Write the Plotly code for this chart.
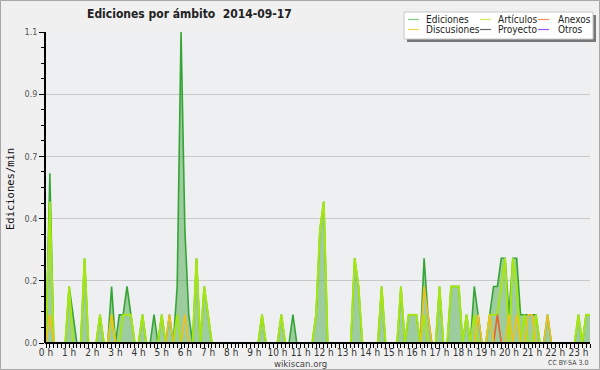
import plotly.graph_objects as go

# 10-minute bins from 00:00 to 23:40
minutes = list(range(0, 1420, 10))
hour_labels = [f"{h} h" for h in range(24)]

ediciones = ([0, 0.6, 0, 0, 0, 0, 0.2, 0.1, 0, 0, 0.3, 0] +
             [0, 0, 0.1, 0, 0, 0.2, 0, 0.1, 0.1, 0.2, 0.1, 0] +
             [0, 0.1, 0, 0, 0.1, 0, 0.1, 0, 0.1, 0, 0.2, 1.1] +
             [0.4, 0.1, 0, 0.3, 0, 0.2, 0.1, 0, 0, 0, 0, 0] +
             [0, 0, 0, 0, 0, 0, 0, 0, 0.1, 0, 0, 0] +
             [0, 0.1, 0, 0, 0.1, 0, 0, 0, 0, 0, 0.1, 0.4] +
             [0.5, 0, 0, 0, 0, 0, 0, 0, 0.3, 0.2, 0, 0] +
             [0, 0, 0, 0.2, 0, 0, 0, 0, 0.2, 0, 0.1, 0.1] +
             [0.1, 0, 0.3, 0.1, 0, 0, 0.2, 0, 0, 0.2, 0.2, 0.2] +
             [0, 0.1, 0, 0.2, 0.1, 0, 0, 0.1, 0.2, 0.2, 0.3, 0.3] +
             [0.1, 0.3, 0.3, 0.1, 0.1, 0.1, 0.1, 0.1, 0, 0, 0.1, 0] +
             [0, 0, 0, 0, 0, 0, 0.1, 0, 0.1, 0.1])

articulos = ([0, 0.5, 0, 0, 0, 0, 0.2, 0, 0, 0, 0.3, 0] +
             [0, 0, 0.1, 0, 0, 0.1, 0, 0, 0.1, 0.1, 0.1, 0] +
             [0, 0.1, 0, 0, 0, 0, 0.1, 0, 0, 0, 0.1, 0] +
             [0, 0, 0, 0.3, 0, 0.2, 0.1, 0, 0, 0, 0, 0] +
             [0, 0, 0, 0, 0, 0, 0, 0, 0.1, 0, 0, 0] +
             [0, 0.1, 0, 0, 0, 0, 0, 0, 0, 0, 0.1, 0.4] +
             [0.5, 0, 0, 0, 0, 0, 0, 0, 0.3, 0.2, 0, 0] +
             [0, 0, 0, 0.2, 0, 0, 0, 0, 0.2, 0, 0.1, 0.1] +
             [0.1, 0, 0.1, 0, 0, 0, 0.2, 0, 0, 0.2, 0.2, 0.2] +
             [0, 0.1, 0, 0.1, 0, 0, 0, 0.1, 0.1, 0.1, 0.2, 0.3] +
             [0, 0.3, 0.2, 0, 0.1, 0, 0, 0.1, 0, 0, 0, 0] +
             [0, 0, 0, 0, 0, 0, 0.1, 0, 0.1, 0.1])

anexos = ([0, 0, 0, 0, 0, 0, 0, 0, 0, 0, 0, 0] +
          [0, 0, 0, 0, 0, 0, 0, 0, 0, 0, 0, 0] +
          [0, 0, 0, 0, 0, 0, 0, 0, 0, 0, 0, 0] +
          [0, 0, 0, 0, 0, 0, 0, 0, 0, 0, 0, 0] +
          [0, 0, 0, 0, 0, 0, 0, 0, 0, 0, 0, 0] +
          [0, 0, 0, 0, 0, 0, 0, 0, 0, 0, 0, 0] +
          [0, 0, 0, 0, 0, 0, 0, 0, 0, 0, 0, 0] +
          [0, 0, 0, 0, 0, 0, 0, 0, 0, 0, 0, 0] +
          [0, 0, 0, 0, 0, 0, 0, 0, 0, 0, 0, 0] +
          [0, 0, 0, 0, 0, 0, 0, 0, 0, 0.1, 0, 0] +
          [0, 0, 0, 0, 0, 0, 0, 0, 0, 0, 0, 0] +
          [0, 0, 0, 0, 0, 0, 0, 0, 0, 0])

discusiones = ([0, 0.1, 0, 0, 0, 0, 0, 0, 0, 0, 0, 0] +
               [0, 0, 0, 0, 0, 0.1, 0, 0, 0, 0, 0, 0] +
               [0, 0, 0, 0, 0, 0, 0, 0, 0.1, 0, 0, 0] +
               [0.1, 0, 0, 0, 0, 0, 0, 0, 0, 0, 0, 0] +
               [0, 0, 0, 0, 0, 0, 0, 0, 0, 0, 0, 0] +
               [0, 0, 0, 0, 0, 0, 0, 0, 0, 0, 0, 0] +
               [0, 0, 0, 0, 0, 0, 0, 0, 0, 0, 0, 0] +
               [0, 0, 0, 0, 0, 0, 0, 0, 0, 0, 0, 0] +
               [0, 0, 0.2, 0.1, 0, 0, 0, 0, 0, 0, 0, 0] +
               [0, 0, 0, 0, 0.1, 0, 0, 0.1, 0, 0, 0, 0] +
               [0.1, 0, 0.1, 0, 0, 0.1, 0.1, 0, 0, 0, 0.1, 0] +
               [0, 0, 0, 0, 0, 0, 0, 0, 0, 0])

proyecto = ([0, 0, 0, 0, 0, 0, 0, 0, 0, 0, 0, 0] * 11 +
            [0, 0, 0, 0, 0, 0, 0, 0, 0, 0])
otros = ([0, 0, 0, 0, 0, 0, 0, 0, 0, 0, 0, 0] * 11 +
         [0, 0, 0, 0, 0, 0, 0, 0, 0, 0])

y_tickvals = [0, 0.22, 0.44, 0.66, 0.88, 1.1]
y_ticktext = ["0.0", "0.2", "0.4", "0.7", "0.9", "1.1"]

series_names = ["Ediciones", "Artículos", "Anexos", "Discusiones", "Proyecto", "Otros"]
series_colors = ["#35a535", "#a6e612", "#f0602a", "#f2c01a", "#555555", "#9040e0"]
legend_colors = ["#7fcf7f", "#cdee55", "#f58a5a", "#f7d64a", "#666666", "#9a55ee"]

COND = "DejaVu Sans Condensed, Liberation Sans Narrow, DejaVu Sans"

W, H = 600, 370
L, R, T, B = 46, 590, 32, 343


def px(xp):
    return (xp - L) / (R - L)


def py(yp):
    return (B - yp) / (B - T)


hours = [m / 60 for m in minutes]
fig = go.Figure()

fig.add_trace(go.Scatter(x=hours, y=ediciones, mode="lines", name="Ediciones",
                         line=dict(color=series_colors[0], width=1.6),
                         fill="tozeroy", fillcolor="rgba(70,165,70,0.48)"))
fig.add_trace(go.Scatter(x=hours, y=proyecto, mode="lines", name="Proyecto",
                         line=dict(color=series_colors[4], width=1.4)))
fig.add_trace(go.Scatter(x=hours, y=otros, mode="lines", name="Otros",
                         line=dict(color=series_colors[5], width=1.4)))
fig.add_trace(go.Scatter(x=hours, y=articulos, mode="lines", name="Artículos",
                         line=dict(color=series_colors[1], width=2)))
fig.add_trace(go.Scatter(x=hours, y=anexos, mode="lines", name="Anexos",
                         line=dict(color=series_colors[2], width=1.6)))
fig.add_trace(go.Scatter(x=hours, y=discusiones, mode="lines", name="Discusiones",
                         line=dict(color=series_colors[3], width=1.6)))

x_end = minutes[-1] / 60
minor_x = [m / 60 for m in minutes if m % 60 != 0]

fig.update_layout(
    width=W, height=H,
    margin=dict(l=L, r=W - R, t=T, b=H - B, pad=0, autoexpand=False),
    paper_bgcolor="#f0f0f0",
    plot_bgcolor="#eeeff1",
    showlegend=False,
    font=dict(family=COND, size=9, color="#333333"),
)

fig.update_xaxes(
    range=[0, x_end], tickmode="array", tickvals=list(range(24)), ticktext=hour_labels,
    tickangle=0, automargin=False, ticklabelstandoff=-4,
    showgrid=False, zeroline=False, showline=False,
    ticks="outside", ticklen=4, tickcolor="black", tickwidth=1,
    tickfont=dict(family=COND, size=10, color="#333333"),
    minor=dict(tickmode="array", tickvals=minor_x, ticks="outside", ticklen=4,
               tickcolor="black", tickwidth=1, showgrid=False),
    fixedrange=True,
)

minor_yv = [round(0.055 * i, 4) for i in range(21) if i % 4 != 0]
fig.update_yaxes(
    range=[0, 1.1], tickmode="array", tickvals=y_tickvals, ticktext=y_ticktext,
    automargin=False,
    showgrid=True, gridcolor="#c9c9c9", gridwidth=1, zeroline=False,
    showline=True, linecolor="black", linewidth=1.5,
    ticks="outside", ticklen=5, tickcolor="black", tickwidth=1,
    tickfont=dict(family=COND, size=9, color="#555555"),
    minor=dict(tickmode="array", tickvals=minor_yv, ticks="outside", ticklen=3,
               tickcolor="black", tickwidth=1, showgrid=False),
    fixedrange=True,
)

shapes = []
annotations = []

# x axis baseline drawn over the zero-valued line segments
shapes.append(dict(type="line", xref="paper", yref="paper", x0=px(45), x1=1, y0=0, y1=0,
                   line=dict(color="black", width=2), layer="above"))

# outer border
shapes.append(dict(type="rect", xref="paper", yref="paper",
                   x0=px(0.5), x1=px(599.5), y0=py(0.5), y1=py(369.5),
                   line=dict(color="#a8a8a8", width=1), fillcolor="rgba(0,0,0,0)", layer="above"))

# title
annotations.append(dict(text="<b>Ediciones por ámbito  2014-09-17</b>", xref="paper", yref="paper",
                        x=px(85), y=py(14), xanchor="left", yanchor="middle", showarrow=False,
                        font=dict(family=COND, size=12, color="#222222")))

# y axis title
annotations.append(dict(text="Ediciones/min", xref="paper", yref="paper",
                        x=px(10), y=py(189), xanchor="center", yanchor="middle", showarrow=False,
                        textangle=-90,
                        font=dict(family="DejaVu Sans Mono", size=10.5, color="#111111")))

# legend box with shadow
lx0, lx1, ly0, ly1 = 404, 593, 12, 39
shapes.append(dict(type="rect", xref="paper", yref="paper",
                   x0=px(lx0 + 3), x1=px(lx1 + 3), y0=py(ly0 + 3), y1=py(ly1 + 3),
                   line=dict(width=0), fillcolor="#777777", layer="above"))
shapes.append(dict(type="rect", xref="paper", yref="paper",
                   x0=px(lx0), x1=px(lx1), y0=py(ly0), y1=py(ly1),
                   line=dict(color="#c8c8c8", width=1), fillcolor="white", layer="above"))
col_line_x = [408, 480, 538]
col_text_x = [424, 496, 556]
row_y = [19.5, 29.5]
for k, idx in enumerate(range(6)):
    r, c = divmod(k, 3)
    shapes.append(dict(type="line", xref="paper", yref="paper",
                       x0=px(col_line_x[c]), x1=px(col_line_x[c] + 11),
                       y0=py(row_y[r]), y1=py(row_y[r]),
                       line=dict(color=legend_colors[idx], width=1.2), layer="above"))
    annotations.append(dict(text=series_names[idx], xref="paper", yref="paper",
                            x=px(col_text_x[c]), y=py(row_y[r]), xanchor="left", yanchor="middle",
                            showarrow=False,
                            font=dict(family=COND, size=10, color="#222222")))

annotations.append(dict(text="wikiscan.org", xref="paper", yref="paper",
                        x=px(300), y=py(363), xanchor="center", yanchor="middle", showarrow=False,
                        font=dict(family=COND, size=9.5, color="#444444")))
annotations.append(dict(text="CC BY-SA 3.0", xref="paper", yref="paper",
                        x=px(590), y=py(363), xanchor="right", yanchor="middle", showarrow=False,
                        font=dict(family=COND, size=7, color="#444444")))

fig.update_layout(shapes=shapes, annotations=annotations)
fig.write_html("out.html", config={"displayModeBar": False},
               post_script="document.body.style.margin='0';document.body.style.padding='0';"
                           "document.body.style.overflow='hidden';")
